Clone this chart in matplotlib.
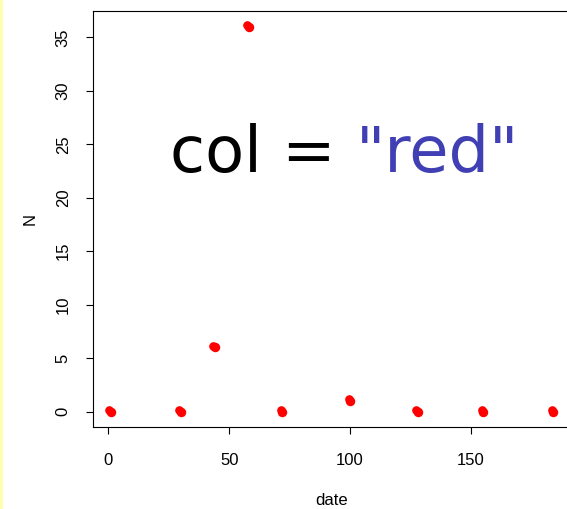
import matplotlib
matplotlib.use("Agg")
import matplotlib.pyplot as plt
import matplotlib.transforms as mtransforms
from matplotlib.patches import Rectangle

plt.rcParams['font.family'] = ['Liberation Sans', 'DejaVu Sans']

date = [1, 30, 44, 58, 72, 100, 128, 155, 184]
N = [0, 0, 6, 36, 0, 1, 0, 0, 0]

fig = plt.figure(figsize=(5.67, 5.09), dpi=100)
ax = fig.add_axes([0.164, 0.161, 0.843, 0.817])

# doubled dots, slightly offset like the original
off = mtransforms.ScaledTranslation(-1.5 / 100, 1.5 / 100, fig.dpi_scale_trans)
ax.plot(date, N, 'o', color='red', markersize=5.2, transform=ax.transData + off)
ax.plot(date, N, 'o', color='red', markersize=5.8)

pad_x = (max(date) - min(date)) * 0.04
pad_y = (max(N) - min(N)) * 0.04
ax.set_xlim(min(date) - pad_x, max(date) + pad_x)
ax.set_ylim(min(N) - pad_y, max(N) + pad_y)

ax.set_xticks([0, 50, 100, 150])
ax.set_yticks(range(0, 36, 5))
ax.tick_params(direction='out', length=5, width=0.8, labelsize=12)
ax.tick_params(axis='x', pad=14)
ax.tick_params(axis='y', pad=11)
for lab in ax.get_yticklabels():
    lab.set_rotation(90)
    lab.set_va('center')
ax.set_xlabel('date', fontsize=12, labelpad=18)
ax.set_ylabel('N', fontsize=12, labelpad=13)
for s in ax.spines.values():
    s.set_linewidth(0.8)

t1 = ax.text(0.161, 0.613, 'col = ', transform=ax.transAxes, fontsize=46,
             family='DejaVu Sans', ha='left', va='baseline', color='black')
ax.annotate('"red"', xy=(1, 0), xycoords=t1, fontsize=46,
            family='DejaVu Sans', ha='left', va='bottom', color='#4040b4')

fig.patches.append(Rectangle((0, 0), 3 / 567, 1, transform=fig.transFigure,
                             facecolor='#ffffb0', edgecolor='none'))

fig.savefig('out.png', dpi=100)
